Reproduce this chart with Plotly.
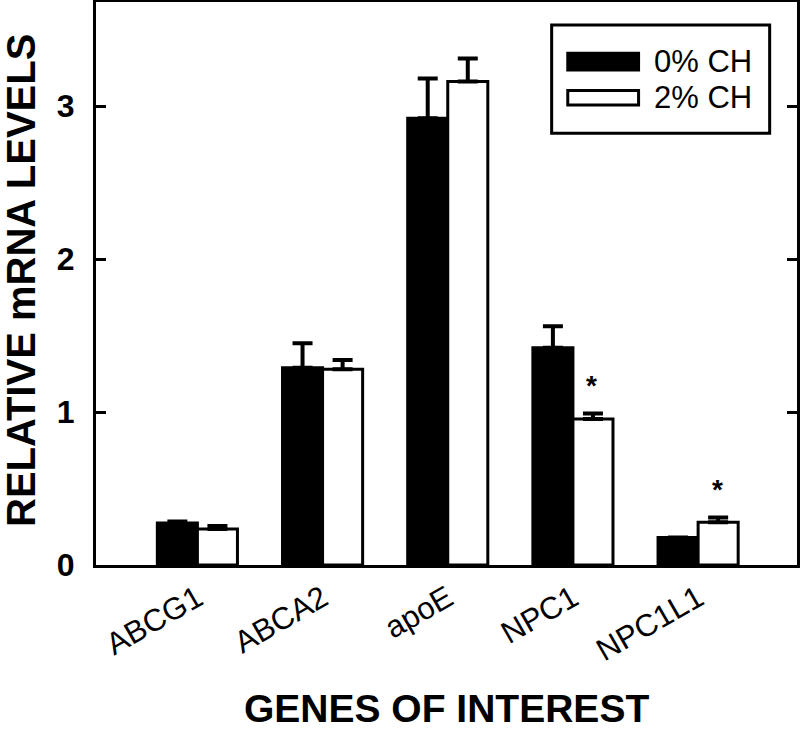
import plotly.graph_objects as go

genes = ["ABCG1", "ABCA2", "apoE", "NPC1", "NPC1L1"]
ch0_values = [0.275, 1.29, 2.92, 1.42, 0.18]
ch0_err = [0.01, 0.16, 0.26, 0.14, 0.0]
ch2_values = [0.235, 1.28, 3.16, 0.955, 0.28]
ch2_err = [0.02, 0.06, 0.15, 0.035, 0.03]
significant = ["", "", "", "*", "*"]
y_ticks = [0, 1, 2, 3]

FONT = "Liberation Sans, Arial, sans-serif"

fig = go.Figure()
fig.add_trace(go.Bar(
    name="0% CH", x=genes, y=ch0_values,
    marker=dict(color="black", line=dict(color="black", width=3)),
    error_y=dict(type="data", array=ch0_err, arrayminus=[0]*len(genes), symmetric=False,
                 color="black", thickness=4, width=10),
    showlegend=False,
))
fig.add_trace(go.Bar(
    name="2% CH", x=genes, y=ch2_values,
    marker=dict(color="white", line=dict(color="black", width=3)),
    error_y=dict(type="data", array=ch2_err, arrayminus=[0]*len(genes), symmetric=False,
                 color="black", thickness=4, width=10),
    showlegend=False,
))

# significance asterisks above 2% CH bars
for g, v, e, s in zip(genes, ch2_values, ch2_err, significant):
    if s:
        fig.add_annotation(x=g, y=v + e, text="<b>" + s + "</b>", showarrow=False, xshift=19, yshift=28,
                           font=dict(family=FONT, size=28, color="black"))

# custom legend
fig.add_shape(type="rect", xref="paper", yref="paper", x0=0.650, x1=0.961, y0=0.767, y1=0.959,
              line=dict(color="black", width=3), fillcolor="white")
fig.add_shape(type="rect", xref="paper", yref="paper", x0=0.673, x1=0.774, y0=0.879, y1=0.909,
              line=dict(color="black", width=3), fillcolor="black")
fig.add_shape(type="rect", xref="paper", yref="paper", x0=0.673, x1=0.774, y0=0.817, y1=0.843,
              line=dict(color="black", width=3), fillcolor="white")
fig.add_annotation(xref="paper", yref="paper", x=0.793, y=0.895, text="0% CH", showarrow=False,
                   xanchor="left", yanchor="middle", font=dict(family=FONT, size=31, color="black"))
fig.add_annotation(xref="paper", yref="paper", x=0.793, y=0.830, text="2% CH", showarrow=False,
                   xanchor="left", yanchor="middle", font=dict(family=FONT, size=31, color="black"))

# axis titles
fig.add_annotation(xref="paper", yref="paper", x=0.5, y=-0.254, text="<b>GENES OF INTEREST</b>",
                   showarrow=False, xanchor="center", yanchor="middle",
                   font=dict(family=FONT, size=39, color="black"))
fig.add_annotation(xref="paper", yref="paper", x=-0.108, y=0.505, text="<b>RELATIVE mRNA LEVELS</b>",
                   showarrow=False, xanchor="center", yanchor="middle", textangle=-90,
                   font=dict(family=FONT, size=40, color="black"))

fig.update_layout(
    width=800, height=729,
    margin=dict(l=96, r=3, t=2, b=164),
    paper_bgcolor="white", plot_bgcolor="white",
    barmode="group", bargap=0.36, bargroupgap=0,
    font=dict(family=FONT, color="black"),
)
fig.update_xaxes(
    range=[-0.81, 4.79], showline=True, linecolor="black", linewidth=3, mirror=True,
    ticks="", tickangle=-30, showgrid=False, zeroline=False, automargin=False,
    tickfont=dict(family=FONT, size=31, color="black"),
)
fig.update_yaxes(
    range=[0, 3.68], tickvals=y_ticks, ticktext=[f"<b>{t}</b>" for t in y_ticks],
    showline=True, linecolor="black", linewidth=3, mirror="ticks",
    ticks="inside", ticklen=10, tickwidth=3, tickcolor="black",
    showgrid=False, zeroline=False, ticklabelstandoff=12, automargin=False,
    tickfont=dict(family=FONT, size=32, color="black"),
)

fig.write_html("out.html", config={"displayModeBar": False},
               post_script="document.body.style.margin='0px';document.body.style.overflow='hidden';")
